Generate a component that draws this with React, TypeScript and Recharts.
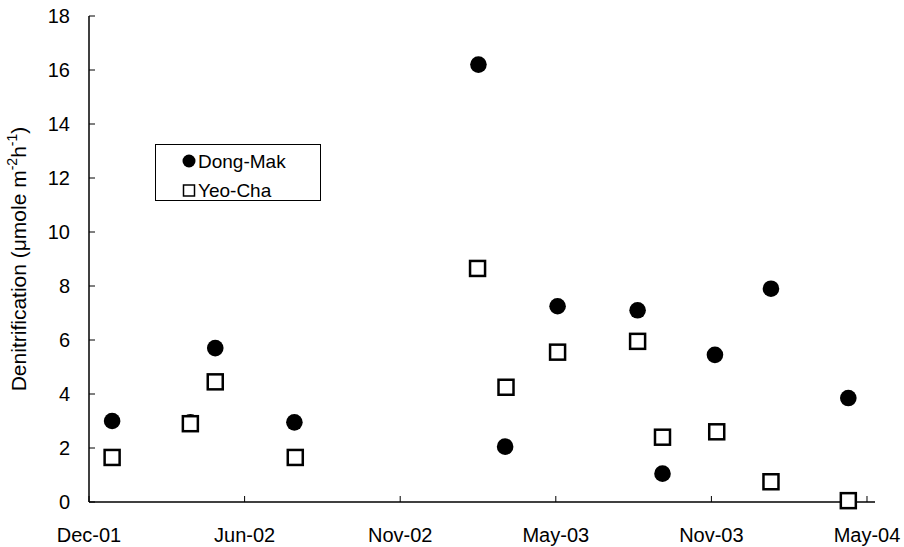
import React from 'react';
import { ScatterChart, Scatter, XAxis, YAxis } from 'recharts';

// x positions are days after the first axis date (axis ticks every 175 days)
const tickDays = [0, 175, 350, 525, 700, 875];
const tickLabels = ['Dec-01', 'Jun-02', 'Nov-02', 'May-03', 'Nov-03', 'May-04'];
const yTicks = [0, 2, 4, 6, 8, 10, 12, 14, 16, 18];

const dongMakDays = [26, 114, 142, 231, 438, 468, 527, 617, 645, 704, 767, 854];
const dongMakValues = [3.0, 2.95, 5.7, 2.95, 16.2, 2.05, 7.25, 7.1, 1.05, 5.45, 7.9, 3.85];

const yeoChaDays = [26, 114, 142, 232, 437, 469, 527, 617, 645, 706, 767, 854];
const yeoChaValues = [1.65, 2.9, 4.45, 1.65, 8.65, 4.25, 5.55, 5.95, 2.4, 2.6, 0.75, 0.05];

const seriesNames = ['Dong-Mak', 'Yeo-Cha'];

const dongMakData = dongMakDays.map((d, i) => ({ x: d, y: dongMakValues[i] }));
const yeoChaData = yeoChaDays.map((d, i) => ({ x: d, y: yeoChaValues[i] }));

const FONT = '"Liberation Sans", Arial, sans-serif';

const XTick = (props: any) => {
  const { x, y, payload } = props;
  const idx = tickDays.indexOf(payload.value);
  return (
    <g>
      <line x1={x} y1={y} x2={x} y2={y - 6} stroke="#000" strokeWidth={1} />
      <text x={x} y={y + 40} textAnchor="middle" fontFamily={FONT} fontSize={20} fill="#000">
        {idx >= 0 ? tickLabels[idx] : ''}
      </text>
    </g>
  );
};

const YTick = (props: any) => {
  const { x, y, payload } = props;
  return (
    <g>
      <line x1={x} y1={y} x2={x + 6} y2={y} stroke="#000" strokeWidth={1} />
      <text x={x - 19} y={y + 7} textAnchor="end" fontFamily={FONT} fontSize={20} fill="#000">
        {payload.value}
      </text>
    </g>
  );
};

const YTitle = (props: any) => {
  const vb = props && props.viewBox ? props.viewBox : { y: 16, height: 486 };
  const cy = vb.y + vb.height / 2;
  const cx = 26;
  return (
    <text
      x={cx}
      y={cy}
      transform={`rotate(-90, ${cx}, ${cy})`}
      textAnchor="middle"
      fontFamily={FONT}
      fontSize={21}
      fill="#000"
    >
      <tspan>Denitrification (μmole m</tspan>
      <tspan dy={-9} fontSize={14}>-2</tspan>
      <tspan dy={9}>h</tspan>
      <tspan dy={-9} fontSize={14}>-1</tspan>
      <tspan dy={9}>)</tspan>
    </text>
  );
};

const CircleShape = (props: any) => {
  const { cx, cy } = props;
  return <circle cx={cx} cy={cy} r={8.3} fill="#000" />;
};

const SquareShape = (props: any) => {
  const { cx, cy } = props;
  const s = 15;
  return (
    <rect x={cx - s / 2} y={cy - s / 2} width={s} height={s} fill="#fff" stroke="#000" strokeWidth={2.5} />
  );
};

export default function App() {
  return (
    <div style={{ position: 'absolute', left: 0, top: 0, width: 904, height: 547, background: '#fff' }}>
      <ScatterChart width={904} height={547} margin={{ top: 16, right: 29, bottom: 0, left: 0 }}>
        <XAxis
          type="number"
          dataKey="x"
          domain={[0, 884]}
          ticks={tickDays}
          interval={0}
          height={45}
          tickSize={0}
          tickMargin={0}
          tickLine={false}
          tick={<XTick />}
          axisLine={{ stroke: '#000', strokeWidth: 1.5 }}
          allowDataOverflow
        />
        <YAxis
          type="number"
          dataKey="y"
          domain={[0, 18]}
          ticks={yTicks}
          interval={0}
          width={89}
          tickSize={0}
          tickMargin={0}
          tickLine={false}
          tick={<YTick />}
          axisLine={{ stroke: '#000', strokeWidth: 1.5 }}
          label={{ content: (p: any) => <YTitle {...p} /> }}
        />
        <Scatter name={seriesNames[0]} data={dongMakData} shape={<CircleShape />} isAnimationActive={false} />
        <Scatter name={seriesNames[1]} data={yeoChaData} shape={<SquareShape />} isAnimationActive={false} />
      </ScatterChart>
      <div
        style={{
          position: 'absolute',
          left: 155,
          top: 144,
          width: 166,
          height: 57,
          border: '1px solid #000',
          boxSizing: 'border-box',
          background: '#fff',
        }}
      >
        <svg width={166} height={57} style={{ position: 'absolute', left: -1, top: -1 }}>
          <circle cx={34} cy={17} r={6.5} fill="#000" />
          <text x={43} y={24} fontFamily={FONT} fontSize={19} fill="#000">
            {seriesNames[0]}
          </text>
          <rect x={28.5} y={41} width={11} height={11} fill="#fff" stroke="#000" strokeWidth={1.5} />
          <text x={43} y={53} fontFamily={FONT} fontSize={19} fill="#000">
            {seriesNames[1]}
          </text>
        </svg>
      </div>
    </div>
  );
}
